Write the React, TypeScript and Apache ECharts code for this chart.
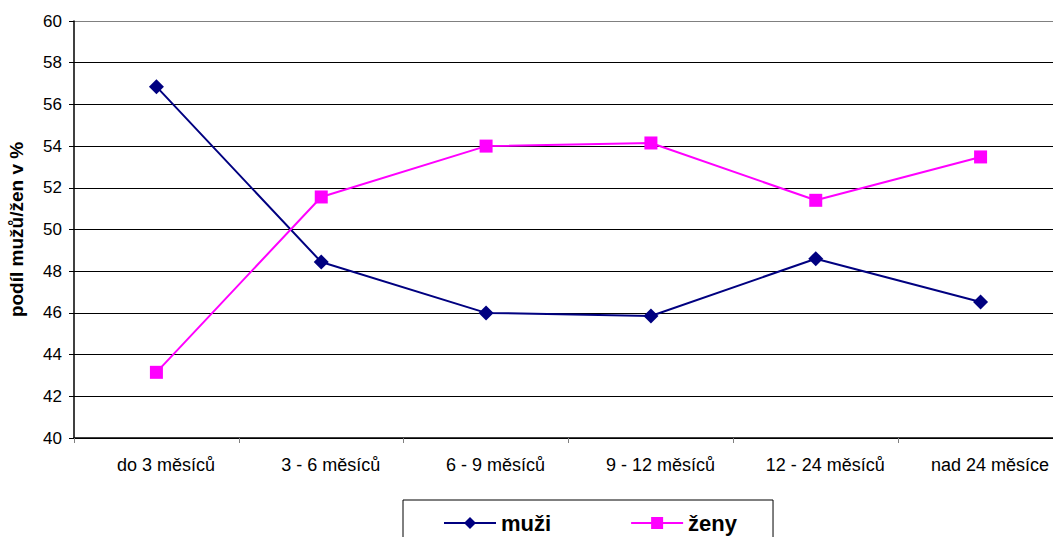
import React, { useEffect, useRef } from "react";
import * as echarts from "echarts";

const categories = ["do 3 měsíců", "3 - 6 měsíců", "6 - 9 měsíců", "9 - 12 měsíců", "12 - 24 měsíců", "nad 24 měsíce"];
const muzi = [56.85, 48.44, 46.0, 45.85, 48.6, 46.52];
const zeny = [43.15, 51.56, 54.0, 54.15, 51.4, 53.48];
const yTicks = { min: 40, max: 60, interval: 2 };

export default function App() {
  const ref = useRef<HTMLDivElement>(null);
  useEffect(() => {
    if (!ref.current) return;
    const chart = echarts.init(ref.current, undefined, { renderer: "svg" });
    const gridColors = ["#000", "#000", "#000", "#000", "#000", "#000", "#000", "#000", "#000", "#000", "#808080"];
    chart.setOption({
      animation: false,
      textStyle: { fontFamily: "Liberation Sans, Arial, sans-serif" },
      grid: { left: 74, top: 21, width: 989, height: 417, containLabel: false, outerBoundsMode: "none" },
      xAxis: {
        type: "category",
        data: categories,
        boundaryGap: true,
        axisLine: { lineStyle: { color: "#000", width: 1.5 } },
        axisTick: { show: true, length: 5, lineStyle: { color: "#808080" } },
        axisLabel: { color: "#000", fontSize: 18, margin: 18, interval: 0, padding: [0, 0, 0, 19] },
      },
      yAxis: {
        type: "value",
        min: yTicks.min,
        max: yTicks.max,
        interval: yTicks.interval,
        name: "podíl mužů/žen v %",
        nameLocation: "middle",
        nameGap: 48,
        nameTextStyle: { fontSize: 19, fontWeight: "bold", color: "#000" },
        axisLine: { show: true, lineStyle: { color: "#000", width: 1.5 } },
        axisTick: { show: true, length: 5, lineStyle: { color: "#000" } },
        axisLabel: { color: "#000", fontSize: 17, margin: 12 },
        splitLine: { show: true, lineStyle: { color: gridColors, width: 1 } },
      },
      legend: {
        left: 403,
        top: 500,
        padding: [12, 36, 20, 40],
        itemGap: 79,
        itemWidth: 52,
        itemHeight: 15,
        borderColor: "#000",
        borderWidth: 1,
        textStyle: { fontSize: 22, fontWeight: "bold", color: "#000" },
        data: ["muži", "ženy"],
      },
      series: [
        {
          name: "muži",
          type: "line",
          data: muzi,
          symbol: "diamond",
          symbolSize: 15,
          itemStyle: { color: "#000080" },
          lineStyle: { color: "#000080", width: 2 },
        },
        {
          name: "ženy",
          type: "line",
          data: zeny,
          symbol: "rect",
          symbolSize: 13,
          itemStyle: { color: "#FF00FF" },
          lineStyle: { color: "#FF00FF", width: 2 },
        },
      ],
    });
    return () => chart.dispose();
  }, []);
  return <div ref={ref} style={{ position: "absolute", left: 0, top: 0, width: 1053, height: 537 }} />;
}
